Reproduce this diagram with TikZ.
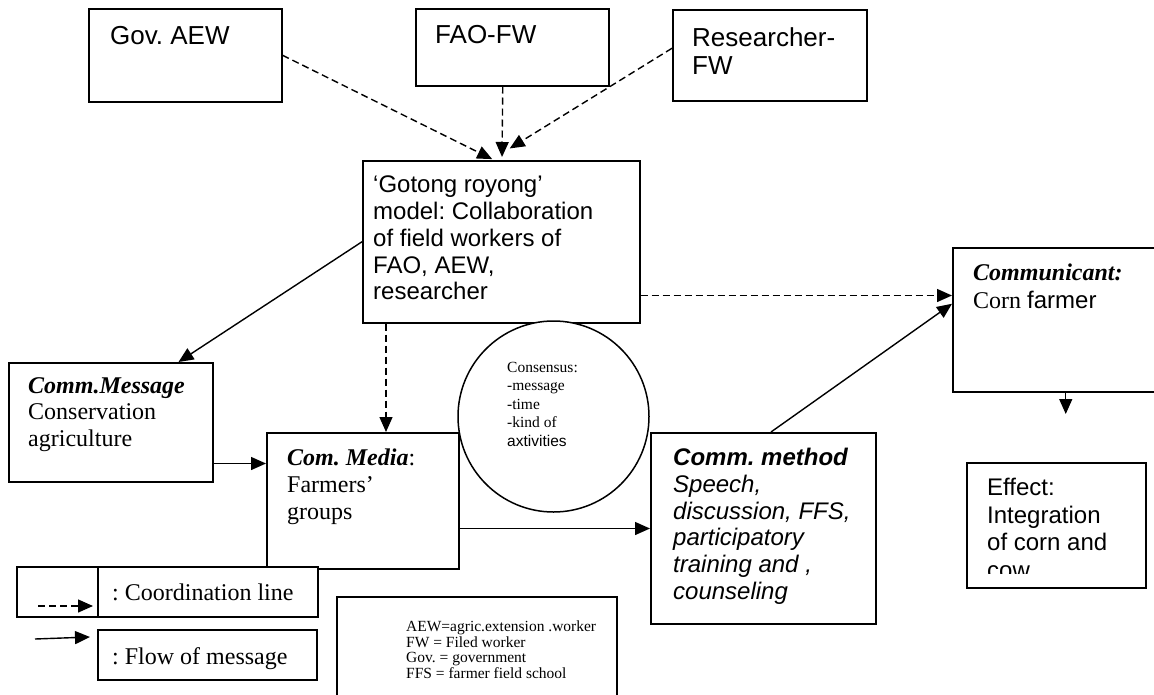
\documentclass[tikz,border=0pt]{standalone}
\usepackage{fontspec}
\setmainfont{Liberation Serif}
\newfontfamily\arialf{Liberation Sans}
\usetikzlibrary{arrows.meta}
\frenchspacing

\begin{document}
\begin{tikzpicture}[x=1pt,y=-1pt,
  box/.style={draw,line width=1.5pt,fill=white,inner sep=0pt,anchor=north west},
  lbl/.style={inner sep=0pt,anchor=north west,align=left},
  sans/.style={lbl,font=\arialf\fontsize{24}{26.7}\selectfont},
  bigsans/.style={lbl,font=\arialf\fontsize{26}{28}\selectfont},
  serif/.style={lbl,font=\fontsize{24}{26.7}\selectfont},
  small/.style={lbl,font=\fontsize{15.5}{18.4}\selectfont},
  tip/.style={-{Triangle[length=15pt,width=13pt]}},
  flow/.style={tip,line width=1.4pt},
  coord/.style={tip,line width=1.4pt,dash pattern=on 7pt off 4pt}]
  \useasboundingbox (0,0) rectangle (1154,694);
  % field workers
  \node[box,minimum width=193pt,minimum height=93pt] (gov) at (88,8) {};
  \node[box,minimum width=193pt,minimum height=77pt] (fao) at (415,8) {};
  \node[box,minimum width=194pt,minimum height=91pt] (res) at (672,9) {};
  \node[bigsans] (govt) at (110,26) {Gov. AEW};
  \node[bigsans] (faot) at (435,25) {FAO-FW};
  \node[bigsans] (rest) at (692,27) {Researcher-\\FW};
  % model
  \node[box,minimum width=277pt,minimum height=162pt] (gotong) at (362,160) {};
  \node[sans] (gotongt) at (373,176) {‘Gotong royong’\\model: Collaboration\\of field workers of\\FAO, AEW,\\researcher};
  % communication elements
  \node[box,minimum width=208pt,minimum height=144pt] (comm) at (952,247) {};
  \node[lbl,font=\fontsize{24}{28}\selectfont] (commt) at (973,264) {\textbf{\textit{Communicant:}}\\Corn {\arialf farmer}};
  \node[box,minimum width=204pt,minimum height=119pt] (msg) at (8,362) {};
  \node[serif] (msgt) at (28,377) {\textbf{\textit{Comm.Message}}\\Conservation\\agriculture};
  \node[box,minimum width=192pt,minimum height=136pt] (media) at (266,432) {};
  \node[serif] (mediat) at (287,449) {\textbf{\textit{Com. Media}}:\\Farmers’\\groups};
  \node[box,minimum width=225pt,minimum height=191pt] (method) at (650,432) {};
  \node[sans] (methodt) at (673,448) {\textbf{\textit{Comm. method}}\\\textit{Speech,}\\\textit{discussion, FFS,}\\\textit{participatory}\\\textit{training and ,}\\\textit{counseling}};
  \node[box,minimum width=179pt,minimum height=125pt] (effect) at (966,462) {};
  \begin{scope}
    \clip (966,462) rectangle (1145,573.5);
    \node[sans,font=\arialf\fontsize{24}{27.5}\selectfont] (effectt) at (987,478) {Effect:\\Integration\\of corn and\\cow};
  \end{scope}
  \node[draw,line width=1.5pt,fill=white,circle,minimum size=191pt,inner sep=0pt] (cons) at (553.5,416.5) {};
  \node[small] (const) at (507,362) {Consensus:\\-message\\-time\\-kind of\\{\arialf axtivities}};
  % legend
  \node[box,minimum width=81pt,minimum height=50pt] (keyA) at (16,566) {};
  \node[box,minimum width=220pt,minimum height=50pt] (keyB) at (97,566) {};
  \node[box,minimum width=219pt,minimum height=50pt] (keyC) at (97,629) {};
  \node[serif] (keyBt) at (112,584) {: Coordination line};
  \node[serif] (keyCt) at (112,647) {: Flow of message};
  \coordinate (dA) at (38,606); \coordinate (dB) at (93,606);
  \coordinate (fA) at (35,639); \coordinate (fB) at (90,637);
  \draw[coord] (dA) -- (dB);
  \draw[flow] (fA) -- (fB);
  \node[box,minimum width=280pt,minimum height=110pt] (abbr) at (336,596) {};
  \node[lbl,font=\fontsize{15.5}{15.5}\selectfont] (abbrt) at (406,621) {AEW=agric.extension .worker\\FW = Filed worker\\Gov. = government\\FFS = farmer field school};
  % coordination lines
  \draw[coord,shorten >=2pt] (gov.east) -- ([xshift=132pt]gotong.north west);
  \draw[coord,shorten >=3pt] ([xshift=-9.5pt]fao.south) -- ([xshift=140pt]gotong.north west);
  \draw[coord,shorten >=22pt] ([yshift=7pt]res.west) -- ([xshift=129pt]gotong.north west);
  \draw[coord] ([xshift=24pt]gotong.south west) -- ([xshift=24pt]gotong.south west |- media.north);
  \draw[coord] ([yshift=28pt]gotong.south east) -- ([yshift=28pt]gotong.south east -| comm.west);
  % flow of message
  \draw[flow] (gotong.west) -- ([xshift=-35pt]msg.north east);
  \draw[flow] ([yshift=19pt]msg.south east) -- ([yshift=19pt]msg.south east -| media.west);
  \draw[flow] ([yshift=41pt]media.south east) -- ([yshift=41pt]media.south east -| method.west);
  \draw[flow] ([xshift=121pt]method.north west) -- ([yshift=16pt]comm.west);
  \draw[flow,shorten >=48pt] ([xshift=9pt]comm.south) -- ([xshift=9pt]comm.south |- effect.north);
\end{tikzpicture}
\end{document}
